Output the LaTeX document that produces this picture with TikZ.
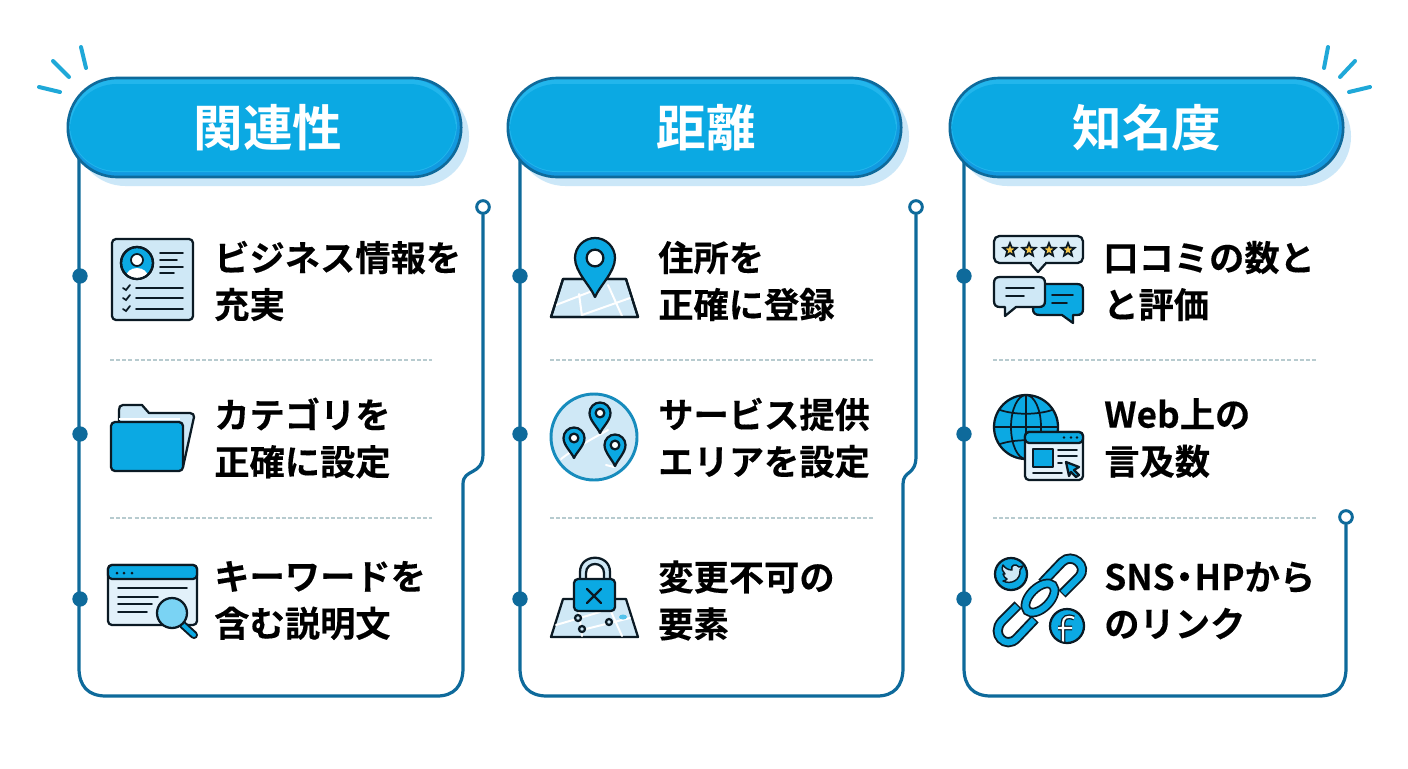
\documentclass[tikz,border=0pt]{standalone}
\usepackage{fontspec}
\setmainfont{Noto Sans CJK JP}[BoldFont={Noto Sans CJK JP Bold}]
\newfontfamily\itemfont{Noto Sans CJK JP Bold}[FakeBold=0.25]
\usetikzlibrary{calc}
\definecolor{blu}{HTML}{0BA9E3}
\definecolor{bluhi}{HTML}{22B6EC}
\definecolor{bludk}{HTML}{1299E0}
\definecolor{shadowc}{HTML}{CBE7F8}
\definecolor{linec}{HTML}{0E6A9B}
\definecolor{lite}{HTML}{CFE8F6}
\definecolor{ink}{HTML}{0B1A24}
\definecolor{spark}{HTML}{1FA8D8}
\definecolor{divc}{HTML}{B7CBCF}
\definecolor{starc}{HTML}{F6C84C}
\tikzset{
  pilltext/.style={text=white,font=\fontsize{37.2}{40}\selectfont\bfseries,anchor=center},
  pillbox/.style={draw=linec,line width=2pt,rounded corners=37pt,inner sep=0pt,minimum height=74.25pt,minimum width=295pt},
  frameline/.style={draw=linec,line width=2.4pt,line cap=round},
  dotn/.style={circle,fill=linec,inner sep=0pt,minimum size=11.5pt},
  opendot/.style={circle,draw=linec,fill=white,line width=2.2pt,inner sep=0pt,minimum size=9.5pt},
  itemtext/.style={anchor=west,align=left,inner sep=0pt,text=black,font=\itemfont\fontsize{26.45}{35.2}\selectfont},
  divider/.style={draw=divc,line width=0.8pt,dash pattern=on 3pt off 1.6pt},
  sparkline/.style={draw=spark,line width=3pt,line cap=round},
  ico/.style={draw=ink,line width=1.7pt,line join=round,line cap=round},
  thin ico/.style={draw=ink,line width=1.3pt,line cap=round},
  road/.style={draw=white,line width=1.5pt,line cap=round},
}
\newcommand{\mypill}[4]{% name, left x, centre of text, text
  \fill[shadowc,rounded corners=37pt] (#2+8,87) rectangle (#2+401,186);
  \fill[bludk,rounded corners=37pt] (#2,78) rectangle (#2+393,177);
  \fill[bluhi,rounded corners=36pt] (#2+1,79) rectangle (#2+389,172);
  \fill[blu,rounded corners=35pt] (#2+2,84) rectangle (#2+388,171);
  \node[pillbox] (#1) at (#2+196.5,127.5) {};
  \node[pilltext] (#1t) at (#3,128) {#4};
}
\newcommand{\mypin}[4]{% x y r tip
  \draw[ico,fill=blu] (#1,#4) .. controls (#1-.25*#3,#4-.3*#4+.3*#2) and (#1-#3,#2+.7*#3) .. (#1-#3,#2)
    .. controls (#1-#3,#2-.55*#3) and (#1-.55*#3,#2-#3) .. (#1,#2-#3)
    .. controls (#1+.55*#3,#2-#3) and (#1+#3,#2-.55*#3) .. (#1+#3,#2)
    .. controls (#1+#3,#2+.7*#3) and (#1+.25*#3,#4-.3*#4+.3*#2) .. (#1,#4) -- cycle;
  \draw[ico,fill=white] (#1,#2) circle[radius=.42*#3];
}
\newcommand{\mystar}[2]{%
  \draw[thin ico,fill=starc,shift={(#1,#2)}] (0,-7)--(1.8,-2.5)--(6.7,-2.2)--(2.9,1)--(4.1,5.7)--(0,3.1)--(-4.1,5.7)--(-2.9,1)--(-6.7,-2.2)--(-1.8,-2.5)--cycle;
}
\newcommand{\mymap}[1]{% top y offset
  \draw[ico,fill=lite] (563,#1)--(626,#1)--(638,#1+38)--(551,#1+38)--cycle;
}
\begin{document}
\begin{tikzpicture}[x=0.75pt,y=-0.75pt]
\useasboundingbox (0,0) rectangle (1408,768);
\fill[white] (0,0) rectangle (1408,768);

% sparks
\draw[sparkline] (39,87)--(60,92) (53,61)--(69,77) (81,47)--(86,68);
\draw[sparkline] (1328,47)--(1324,68) (1355,61)--(1340,77) (1370,87)--(1349,92);

% end markers
\node[opendot] (endA) at (483,207) {};
\node[opendot] (endB) at (916,207) {};
\node[opendot] (endC) at (1346,517) {};
\coordinate (startA) at (79,150);
\coordinate (startB) at (520,150);
\coordinate (startC) at (964,150);

% frames
\draw[frameline] (startA) -- (79,668) .. controls (79,686) and (88,696) .. (106,696) -- (437,696) .. controls (454,696) and (463,686) .. (463,668) -- (463,484) .. controls (463,468) and (483,476) .. (483,454) -- (endA.south);
\draw[frameline] (startB) -- (520,668) .. controls (520,686) and (529,696) .. (547,696) -- (877,696) .. controls (894,696) and (903,686) .. (903,668) -- (903,484) .. controls (903,470) and (916,476) .. (916,456) -- (endB.south);
\draw[frameline] (startC) -- (964,668) .. controls (964,686) and (973,696) .. (991,696) -- (1319,696) .. controls (1337,696) and (1346,686) .. (1346,668) -- (endC.south);

% pills
\mypill{pillA}{68}{268}{関連性}
\mypill{pillB}{508}{706}{距離}
\mypill{pillC}{950}{1147}{知名度}

% dots
\foreach \nm/\x in {A/80,B/520,C/964}{
  \node[dotn] (dot\nm1) at (\x,276) {};
  \node[dotn] (dot\nm2) at (\x,434) {};
  \node[dotn] (dot\nm3) at (\x,599) {};
}

% dividers
\foreach \a/\b in {110/432,550/874,993/1317}{
  \draw[divider] (\a,360)--(\b,360);
  \draw[divider] (\a,518)--(\b,518);
}

% texts
\node[itemtext] (tA1) at (214,281) {ビジネス情報を\\充実};
\node[itemtext] (tA2) at (214,438) {カテゴリを\\正確に設定};
\node[itemtext] (tA3) at (214,600.5) {キーワードを\\含む説明文};
\node[itemtext] (tB1) at (658,281) {住所を\\正確に登録};
\node[itemtext] (tB2) at (658,438) {サービス提供\\エリアを設定};
\node[itemtext] (tB3) at (658,600.5) {変更不可の\\要素};
\node[itemtext] (tC1) at (1103,281) {口コミの数と\\と評価};
\node[itemtext] (tC2) at (1104,438) {Web上の\\言及数};
\node[itemtext] (tC3) at (1104,600.5) {SNS\kern-.22em・\kern-.22em HPから\\のリンク};

% ---- icon: profile card
\draw[ico,fill=lite,rounded corners=3pt] (112,239) rectangle (193,320);
\draw[ico,fill=blu] (137,263) circle[radius=16];
\begin{scope}
\clip (137,263) circle[radius=15];
\fill[white] (137,277) ellipse (11 and 9);
\end{scope}
\draw[draw=ink,line width=1.3pt,fill=white] (137,260) circle[radius=6];
\draw[ico] (137,263) circle[radius=16];
\draw[thin ico] (160,253)--(183,253) (160,260)--(177,260) (160,267)--(183,267) (160,273)--(174,273);
\draw[thin ico] (136,288)--(183,288) (136,298)--(183,298) (136,309)--(183,309);
\foreach \yy in {288,298,309}{\draw[thin ico] (123,\yy)--(126,\yy+2)--(130,\yy-3);}

% ---- icon: folder
\draw[ico,fill=lite] (119,424)--(119,410) .. controls (119,407) and (120,405) .. (123,405) -- (142,405) -- (149,413) -- (190,413) .. controls (193,413) and (194,415) .. (194,417) -- (183,467) -- cycle;
\draw[draw=white,line width=1.5pt] (119,419)--(180,419);
\draw[ico,fill=blu,rounded corners=3pt] (111,422) rectangle (183,471);

% ---- icon: browser + magnifier
\draw[ico,fill=lite!60,rounded corners=3pt] (108,565) rectangle (197,625);
\draw[ico,fill=blu,rounded corners=3pt] (108,565) rectangle (197,579);
\fill[ink] (117,573) circle[radius=1.5] (124,573) circle[radius=1.5] (132,573) circle[radius=1.5];
\draw[thin ico] (118,588)--(187,588) (118,597)--(158,597) (118,604)--(152,604) (118,612)--(147,612);
\draw[draw=ink,line width=6pt,line cap=round] (183,625)--(194,635);
\draw[draw=blu,line width=3pt,line cap=round] (183,625)--(194,635);
\draw[ico,fill=bluhi!60!white] (172,613) circle[radius=15];

% ---- icon: map + pin
\mymap{279}
\begin{scope}\clip (563,279)--(626,279)--(638,317)--(551,317)--cycle;
\draw[road] (556,305)--(600,288) (579,294)--(582,316) (582,315)--(630,298) (608,285)--(622,316);
\end{scope}
\draw[ico] (563,279)--(626,279)--(638,317)--(551,317)--cycle;
\mypin{595}{258}{20}{297}

% ---- icon: area circle + pins
\draw[draw=linec!45!spark,line width=2.2pt,fill=lite] (594,437) circle[radius=43];
\draw[road] (561,459) .. controls (575,448) and (590,440) .. (608,430);
\draw[road] (606,465)--(614,467);
\mypin{600}{413}{10.5}{433}
\mypin{574}{438}{10.5}{458}
\mypin{615}{445}{10.5}{466}

% ---- icon: locked map
\mymap{599}
\begin{scope}\clip (563,599)--(626,599)--(638,637)--(551,637)--cycle;
\draw[road] (556,625)--(600,612) (579,612)--(582,636) (582,630)--(630,618) (608,605)--(622,636);
\end{scope}
\fill[blu!70] (623,617) ellipse (4 and 2.5);
\draw[ico,fill=lite] (580,582) -- (580,572) .. controls (580,553) and (610,553) .. (610,572) -- (610,582) -- (604,582) -- (604,573) .. controls (604,561) and (586,561) .. (586,573) -- (586,582) -- cycle;
\draw[ico,fill=blu,rounded corners=3pt] (574,579) rectangle (615,611);
\draw[ico] (587,589)--(601,603) (601,589)--(587,603);
\draw[ico,fill=lite] (578,618) circle[radius=3] (582,629) circle[radius=3] (609,622) circle[radius=3];

% ---- icon: reviews
\draw[ico,fill=lite!75,rounded corners=4pt] (994,236) rectangle (1083,263);
\draw[ico,fill=lite!75] (1030,263)--(1038,272)--(1046,263);
\fill[lite!75] (1031.5,261)--(1044.5,261)--(1044.5,262.5)--(1031.5,262.5)--cycle;
\mystar{1010}{250}\mystar{1029}{250}\mystar{1049}{250}\mystar{1068}{250}
\draw[ico,fill=blu] (1040,284) -- (1077,284) .. controls (1081,284) and (1083,286) .. (1083,290) -- (1083,309) .. controls (1083,313) and (1081,315) .. (1077,315) -- (1073,315) -- (1073,323) -- (1062,315) -- (1040,315) .. controls (1035,315) and (1033,313) .. (1033,309) -- cycle;
\draw[thin ico] (1052,295)--(1073,295) (1052,303)--(1067,303);
\draw[ico,fill=lite] (1000,277) -- (1039,277) .. controls (1043,277) and (1045,279) .. (1045,283) -- (1045,301) .. controls (1045,305) and (1043,307) .. (1039,307) -- (1016,307) -- (1005,316) -- (1005,307) -- (1000,307) .. controls (996,307) and (994,305) .. (994,301) -- (994,283) .. controls (994,279) and (996,277) .. (1000,277) -- cycle;
\draw[thin ico] (1006,288)--(1034,288) (1006,296)--(1024,296);

% ---- icon: globe + window
\draw[ico,fill=blu] (1026,427) circle[radius=32];
\draw[thin ico] (1026,395)--(1026,459) (994,427)--(1058,427) (1026,427) ellipse (15 and 32);
\draw[thin ico] (1000,410) .. controls (1015,415) and (1037,415) .. (1052,410);
\draw[thin ico] (1000,444) .. controls (1015,439) and (1037,439) .. (1052,444);
\draw[ico,fill=lite!55,rounded corners=3pt] (1025,432) rectangle (1083,480);
\draw[ico,fill=blu,rounded corners=3pt] (1025,432) rectangle (1083,443);
\fill[ink] (1064,437.5) circle[radius=1.3] (1071,437.5) circle[radius=1.3] (1077,437.5) circle[radius=1.3];
\draw[ico,fill=blu] (1033,449) rectangle (1053,467);
\draw[thin ico] (1058,450)--(1077,450) (1058,456)--(1077,456) (1058,463)--(1062,463) (1033,473)--(1062,473);
\draw[ico,fill=blu] (1066,462)--(1079,467)--(1074,470)--(1079,475)--(1076,477)--(1071,472)--(1069,476)--cycle;

% ---- icon: links
\draw[draw=ink,line width=7.6pt,line cap=butt] (1042,583)--(1062,562) .. controls (1072,552) and (1089,566) .. (1079,577) -- (1062,594);
\draw[draw=blu,line width=4.8pt,line cap=butt,shorten <=1pt,shorten >=1pt] (1042,583)--(1062,562) .. controls (1072,552) and (1089,566) .. (1079,577) -- (1062,594);
\draw[draw=ink,line width=7.6pt,line cap=butt] (1018,605)--(1002,621) .. controls (990,634) and (1006,650) .. (1017,638) -- (1035,619);
\draw[draw=blu,line width=4.8pt,line cap=butt,shorten <=1pt,shorten >=1pt] (1018,605)--(1002,621) .. controls (990,634) and (1006,650) .. (1017,638) -- (1035,619);
\draw[draw=ink,line width=7.2pt] (1040,598) ellipse[x radius=18,y radius=10,rotate=45];
\draw[draw=blu,line width=4.6pt] (1040,598) ellipse[x radius=18,y radius=10,rotate=45];
\draw[ico,fill=blu] (1011,574) circle[radius=16];
\draw[draw=ink,line width=1.1pt,line join=round,fill=lite] (1003,581) .. controls (1011,585) and (1021,580) .. (1020,570) -- (1023,566) -- (1019,567) .. controls (1016,563) and (1010,565) .. (1012,570) .. controls (1008,570) and (1005,568) .. (1003,565) .. controls (1001,569) and (1003,572) .. (1005,574) -- (1003,574) .. controls (1004,577) and (1005,578) .. (1007,579) .. controls (1006,580) and (1005,581) .. (1003,581) -- cycle;
\draw[ico,fill=blu] (1067,626) circle[radius=17];
\begin{scope}
\clip (1067,626) circle[radius=16];
\draw[draw=ink,line width=3.6pt] (1074,618) .. controls (1067,615) and (1063,618) .. (1063,623) -- (1063,644) (1058,628)--(1072,628);
\draw[draw=white,line width=1.6pt] (1074,618) .. controls (1067,615) and (1063,618) .. (1063,623) -- (1063,644) (1058,628)--(1072,628);
\end{scope}
\end{tikzpicture}
\end{document}
